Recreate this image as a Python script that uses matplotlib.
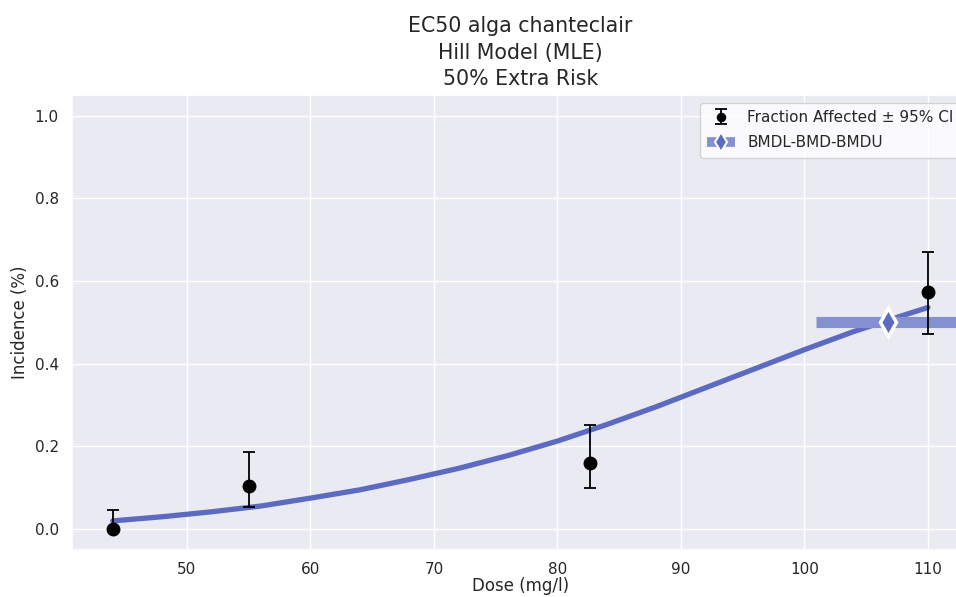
import matplotlib
matplotlib.use("Agg")
import matplotlib.pyplot as plt
from matplotlib.lines import Line2D
import seaborn as sns
import numpy as np

sns.set_theme(style="darkgrid")
plt.rcParams['font.family'] = ['DejaVu Sans']

# Observed data
doses = [44.0, 55.0, 82.6, 110.0]
fraction = [0.0, 0.104, 0.161, 0.573]
ci_low = [0.0, 0.054, 0.099, 0.471]
ci_high = [0.046, 0.186, 0.251, 0.669]

# Fitted Hill curve
curve_dose = [44, 48, 52, 56, 60, 64, 68, 72, 76, 80, 84, 88, 92, 96, 100, 104, 108, 110]
curve_resp = [0.020, 0.030, 0.042, 0.056, 0.075, 0.095, 0.120, 0.147, 0.178, 0.213,
              0.253, 0.296, 0.342, 0.388, 0.434, 0.478, 0.517, 0.536]

# BMD values
bmdl, bmd, bmdu = 100.9, 106.8, 125.0
bmr = 0.5

fig = plt.figure(figsize=(9.56, 5.97), dpi=100)
ax = fig.add_axes([0.0753, 0.079, 0.938, 0.762])

curve_color = "#5c6bc0"
band_color = "#8590d0"

ax.plot(curve_dose, curve_resp, color=curve_color, lw=3.8, zorder=2)

yerr = [np.array(fraction) - np.array(ci_low), np.array(ci_high) - np.array(fraction)]
eb = ax.errorbar(doses, fraction, yerr=yerr, fmt="o", color="black", ms=9,
                 ecolor="black", elinewidth=1.3, capsize=4, capthick=1.3, zorder=4)

ax.errorbar([bmd], [bmr], xerr=[[bmd - bmdl], [bmdu - bmd]], fmt="d",
            color=curve_color, ms=14, mec="white", mew=2.5,
            ecolor=band_color, elinewidth=8, capsize=0, zorder=3)

ax.set_xlim(40.7, 113.3)
ax.set_ylim(-0.05, 1.05)
ax.set_xticks([50, 60, 70, 80, 90, 100, 110])
ax.set_yticks([0.0, 0.2, 0.4, 0.6, 0.8, 1.0])
ax.tick_params(labelsize=11)
ax.tick_params(axis="x", pad=3)
ax.set_xlabel("Dose (mg/l)", fontsize=12, labelpad=0)
ax.set_ylabel("Incidence (%)", fontsize=12)
ax.set_title("EC50 alga chanteclair\nHill Model (MLE)\n50% Extra Risk", fontsize=14.8,
             linespacing=1.4, pad=7)

bmd_handle = Line2D([0], [0], color=band_color, lw=7, marker="d", mfc=curve_color,
                    mec="white", mew=1.5, ms=10, solid_capstyle="butt")
leg = ax.legend([eb, bmd_handle], ["Fraction Affected \u00b1 95% CI", "BMDL-BMD-BMDU"],
                loc="upper right", fontsize=11, markerscale=0.65, handlelength=1.8,
                labelspacing=0.65, borderpad=0.5,
                frameon=True, facecolor="white", edgecolor="#cccccc", framealpha=0.8)
leg.legend_handles[1].set_markersize(10)

fig.savefig("out.png", dpi=100)
